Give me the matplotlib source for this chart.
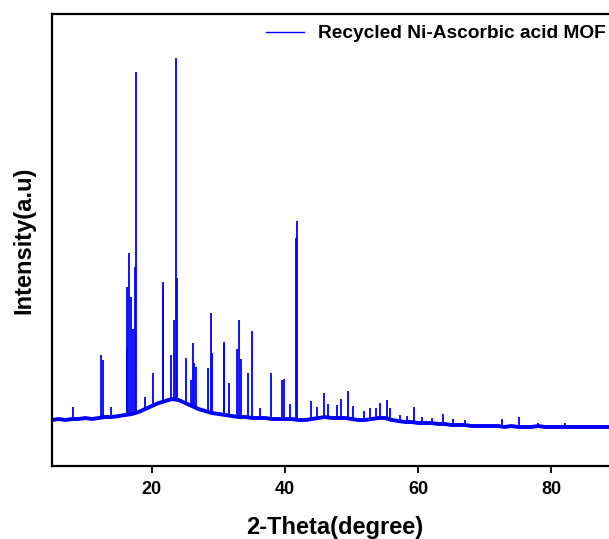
import numpy as np
import matplotlib
matplotlib.use("Agg")
import matplotlib.pyplot as plt

# background trace (2-theta, intensity), 1 degree steps
base_theta = np.arange(5, 91)
base_int = [46, 47, 46, 47, 47,                      # 5-9
            48, 47, 48, 49, 49, 50, 51, 52, 54, 57,  # 10-19
            60, 63, 65, 67, 66, 63, 60, 57, 55, 53,  # 20-29
            52, 51, 50, 49, 49, 48, 48, 48, 47, 47,  # 30-39
            47, 47, 46, 46, 47, 48, 49, 48, 48, 48,  # 40-49
            47, 46, 46, 47, 48, 48, 46, 45, 44, 44,  # 50-59
            43, 43, 43, 42, 42, 41, 41, 41, 40, 40,  # 60-69
            40, 40, 40, 39, 40, 39, 39, 39, 40, 39,  # 70-79
            39, 39, 39, 39, 39, 39, 39, 39, 39, 39,  # 80-89
            39]                                      # 90

# reflections: position, top and foot intensity
peak_theta = [8.1, 12.4, 12.6, 13.8, 16.2, 16.3, 16.5, 16.9, 17.1, 17.4,
              17.6, 19.0, 20.2, 21.6, 21.7, 22.9, 23.3, 23.6, 23.8, 25.1,
              25.9, 26.1, 26.3, 26.6, 28.4, 28.9, 29.1, 30.8, 30.9, 31.6,
              32.8, 33.1, 33.4, 34.4, 35.1, 36.2, 37.9, 39.6, 39.8, 40.8,
              41.7, 41.8, 43.9, 44.8, 45.9, 46.5, 47.8, 48.4, 49.5, 50.2,
              51.8, 52.8, 53.6, 54.3, 55.3, 55.8, 57.2, 58.3, 59.3, 60.5,
              62.0, 63.7, 65.2, 67.0, 72.6, 75.1, 78.0, 82.0]
peak_top = [59, 111, 106, 59, 118, 179, 213, 169, 137, 199,
            394, 69, 93, 177, 184, 111, 146, 408, 188, 108,
            86, 123, 103, 99, 98, 153, 113, 124, 122, 83,
            117, 146, 107, 93, 135, 58, 93, 86, 87, 62,
            228, 245, 65, 59, 73, 62, 61, 67, 75, 60,
            55, 58, 58, 63, 66, 58, 51, 50, 59, 49,
            48, 52, 47, 46, 47, 49, 43, 43]
peak_foot = [47, 48, 48, 49, 51, 51, 51, 51, 52, 52,
             53, 57, 60, 64, 64, 67, 67, 66, 66, 63,
             60, 60, 59, 58, 54, 53, 53, 51, 51, 50,
             49, 49, 49, 49, 48, 48, 47, 47, 47, 47,
             46, 46, 46, 47, 48, 49, 48, 48, 48, 47,
             46, 46, 47, 48, 48, 47, 45, 44, 44, 43,
             43, 42, 41, 41, 40, 39, 39, 39]

label = "Recycled Ni-Ascorbic acid MOF"
color = "#0000ff"

plt.rcParams["font.family"] = ["Liberation Sans", "DejaVu Sans"]
plt.rcParams["font.weight"] = "bold"

fig = plt.figure(figsize=(6.09, 5.39), dpi=100)
ax = fig.add_axes([52 / 609, 73 / 539, 566 / 609, 452 / 539])

ax.plot(base_theta, base_int, color=color, lw=2.8, solid_joinstyle="round")
ax.vlines(peak_theta, peak_foot, peak_top, color=color, lw=1.3)
ax.plot([], [], color=color, lw=1.0, label=label)

ax.set_xlim(5, 90)
ax.set_ylim(0, 452)
ax.set_xticks([20, 40, 60, 80])
ax.set_yticks([])
ax.tick_params(axis="x", direction="out", length=5, width=1.3, labelsize=13, pad=6)
for lab in ax.get_xticklabels():
    lab.set_fontweight("bold")
for sp in ax.spines.values():
    sp.set_linewidth(1.6)

ax.set_xlabel("2-Theta(degree)", fontsize=17, fontweight="bold", labelpad=13)
ax.set_ylabel("Intensity(a.u)", fontsize=17, fontweight="bold", labelpad=12)

ax.legend(loc="upper left", bbox_to_anchor=(266 / 609, 1 - 25 / 539),
          bbox_transform=fig.transFigure, frameon=False, borderpad=0,
          borderaxespad=0, handlelength=2.0, handletextpad=0.7,
          prop={"size": 13.8, "weight": "bold"})

fig.savefig("out.png", dpi=100)
